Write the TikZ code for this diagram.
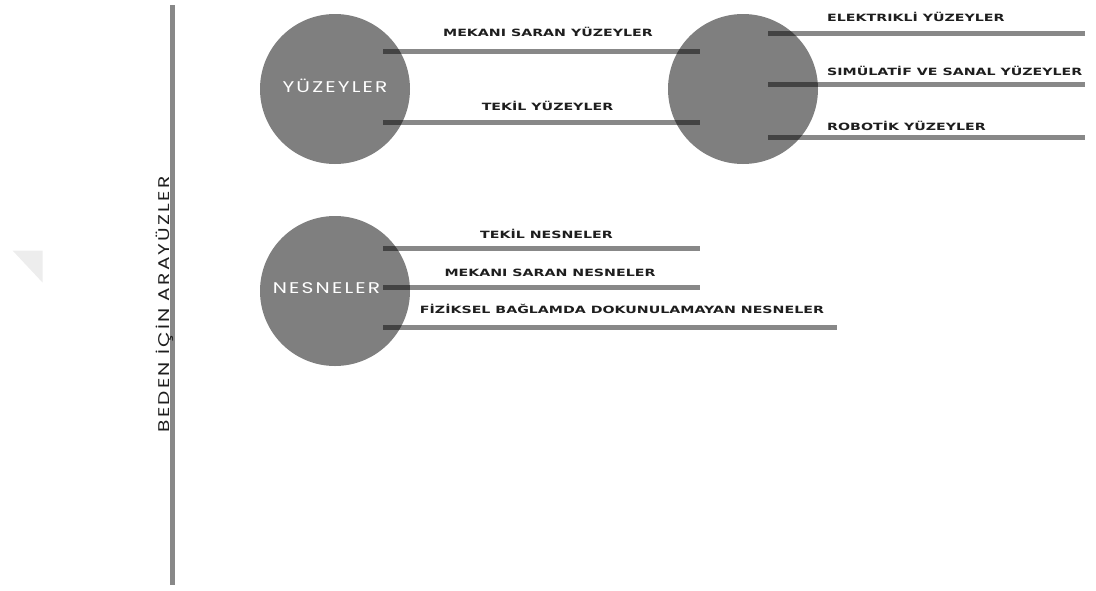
\documentclass[tikz,border=0pt]{standalone}
\usepackage{fontspec}
\newfontfamily\labelfont{DejaVu Sans Bold}[FakeStretch=1.42]
\newfontfamily\geofont{Poppins}[FakeStretch=1.3,LetterSpace=14]
\definecolor{barcol}{HTML}{888888}
\definecolor{inkcol}{HTML}{1E1E1E}
\definecolor{ghost}{HTML}{EDEDED}
\begin{document}
\begin{tikzpicture}[x=1pt,y=-1pt,
  bar/.style={draw=barcol,line width=5pt},
  hub/.style={circle,fill=black,fill opacity=0.5,minimum size=150pt,inner sep=0pt},
  geo/.style={font=\geofont\fontsize{15.5}{15.5}\selectfont,anchor=base,inner sep=0pt},
  hubtext/.style={geo,text=white},
  tag/.style={text=inkcol,font=\labelfont\fontsize{10}{10}\selectfont,anchor=base,inner sep=0pt},
  tagw/.style={tag,anchor=base west}]
\useasboundingbox (0,0) rectangle (1096,590);

% faint corner mark on the left
\fill[ghost] (12.7,250.7) -- (42.7,250.7) -- (42.7,282.7) -- cycle;

% vertical axis with its title
\coordinate (axtop) at (172,5);
\coordinate (axbot) at (172,585);
\draw[bar] (axtop) -- (axbot);
\node[geo,text=inkcol,rotate=90] (axis) at (169.5,304.5) {BEDEN İÇİN ARAYÜZLER};

% bar end points
\coordinate (y1a) at (383,51.5);  \coordinate (y1b) at (700,51.5);
\coordinate (y2a) at (383,122);   \coordinate (y2b) at (700,122);
\coordinate (r1a) at (768,33);    \coordinate (r1b) at (1085,33);
\coordinate (r2a) at (768,84);    \coordinate (r2b) at (1085,84);
\coordinate (r3a) at (768,137);   \coordinate (r3b) at (1085,137);
\coordinate (n1a) at (383,248);   \coordinate (n1b) at (700,248);
\coordinate (n2a) at (383,287);   \coordinate (n2b) at (700,287);
\coordinate (n3a) at (383,327);   \coordinate (n3b) at (837,327);

\foreach \p in {y1,y2,r1,r2,r3,n1,n2,n3}
  \draw[bar] (\p a) -- (\p b);

% circles (translucent, so the bars darken where they pass beneath)
\node[hub] (yuzeyler) at (335,89) {};
\node[hub] (dijital) at (743,89) {};
\node[hub] (nesneler) at (335,291) {};

\node[hubtext] (yuzt) at (335,92) {YÜZEYLER};
\node[hubtext] (nest) at (326.5,293) {NESNELER};

% bar labels
\node[tag] (l1) at (548,36.7) {MEKANI SARAN YÜZEYLER};
\node[tag] (l2) at (547.5,110.7) {TEKİL YÜZEYLER};
\node[tagw] (l3) at (827,21) {ELEKTRIKLİ YÜZEYLER};
\node[tagw] (l4) at (827,75) {SIMÜLATİF VE SANAL YÜZEYLER};
\node[tagw] (l5) at (827,130) {ROBOTİK YÜZEYLER};
\node[tag] (l6) at (546.5,238.3) {TEKİL NESNELER};
\node[tag] (l7) at (550,276.3) {MEKANI SARAN NESNELER};
\node[tag] (l8) at (622,313.3) {FİZİKSEL BAĞLAMDA DOKUNULAMAYAN NESNELER};
\end{tikzpicture}
\end{document}
